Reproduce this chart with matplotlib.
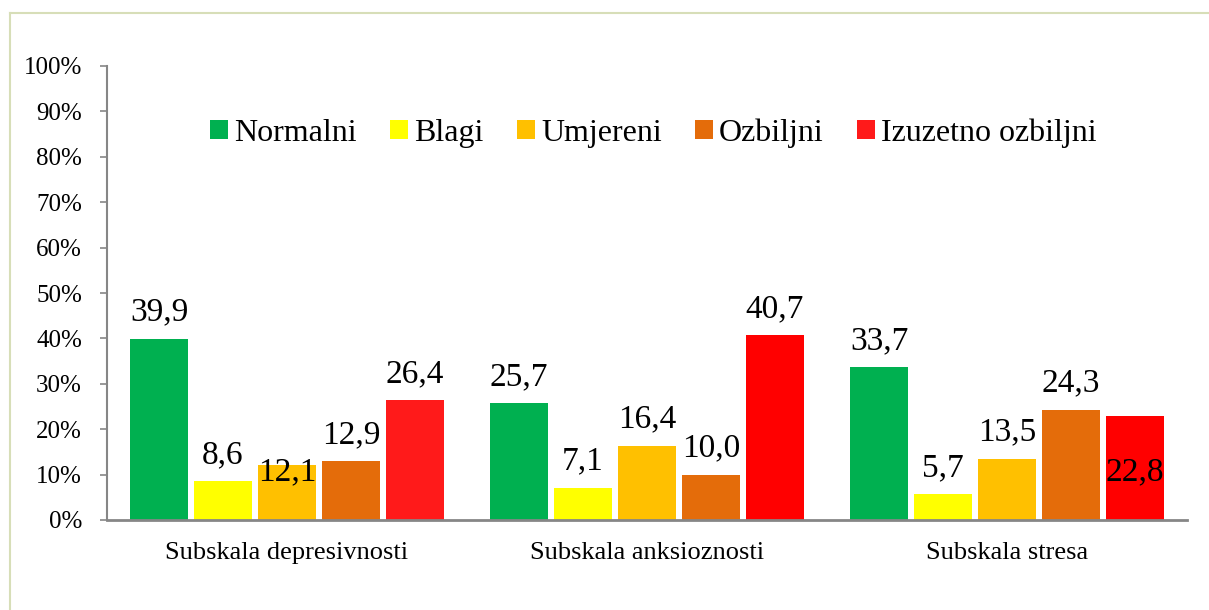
import numpy as np
import matplotlib.pyplot as plt
from matplotlib.lines import Line2D

plt.rcParams['font.family'] = ['Liberation Serif', 'DejaVu Serif']

categories = ['Subskala depresivnosti', 'Subskala anksioznosti', 'Subskala stresa']
series = ['Normalni', 'Blagi', 'Umjereni', 'Ozbiljni', 'Izuzetno ozbiljni']
normalni = [39.9, 25.7, 33.7]
blagi = [8.6, 7.1, 5.7]
umjereni = [12.1, 16.4, 13.5]
ozbiljni = [12.9, 10.0, 24.3]
izuzetno = [26.4, 40.7, 22.8]
values = [normalni, blagi, umjereni, ozbiljni, izuzetno]
colors = ['#00B050', '#FFFF00', '#FFC000', '#E46C0A', '#FF0000']

# label offsets in points (default above the bar); a few sit inside the bar
label_offset = {(2, 0): -5, (4, 2): -40}

fig = plt.figure(figsize=(12.09, 6.10), dpi=100)
ax = fig.add_axes([107 / 1209, 1 - 520 / 610, (1187 - 107) / 1209, (520 - 66) / 610])

# chart frame (cropped: only left and top edges visible)
fig.add_artist(Line2D([10 / 1209, 10 / 1209], [0, 1 - 13 / 610], transform=fig.transFigure,
                      color='#D7DEB8', lw=1.5))
fig.add_artist(Line2D([10 / 1209, 1], [1 - 13 / 610, 1 - 13 / 610], transform=fig.transFigure,
                      color='#D7DEB8', lw=1.5))

x = np.arange(len(categories))
slot = 64 / 360
width = 58 / 360
for i, (name, vals, c) in enumerate(zip(series, values, colors)):
    pos = x + (i - 2) * slot
    cols = [c] * len(vals)
    if name == 'Izuzetno ozbiljni':
        cols[0] = '#FF1A1A'
    ax.bar(pos, np.array(vals) / 100, width, color=cols, label=name, zorder=2)
    for j, v in enumerate(vals):
        off = label_offset.get((i, j), 19)
        ax.annotate(f'{v:.1f}'.replace('.', ','), (pos[j], v / 100), xytext=(0, off),
                    textcoords='offset points', ha='center', va='center', fontsize=24)

ax.set_xlim(-0.5, 2.5)
ax.set_ylim(0, 1)
ax.set_yticks(np.arange(0, 1.01, 0.1))
ax.set_yticklabels([f'{int(round(t * 100))}%' for t in np.arange(0, 1.01, 0.1)], fontsize=18)
ax.set_xticks(x)
ax.set_xticklabels(categories, fontsize=19)
ax.tick_params(axis='x', length=0, pad=16)
ax.tick_params(axis='y', direction='out', length=5, width=1.2, color='#868686', pad=13)
ax.spines['top'].set_visible(False)
ax.spines['right'].set_visible(False)
ax.spines['left'].set_color('#868686')
ax.spines['bottom'].set_color('#868686')
ax.spines['left'].set_linewidth(1.5)
ax.spines['bottom'].set_linewidth(2)

ax.legend(loc='center', bbox_to_anchor=(0.506, 0.852), ncol=5, frameon=False, fontsize=23,
          handlelength=0.55, handleheight=0.55, handletextpad=0.2, columnspacing=1.05)

fig.savefig('out.png', dpi=100)
